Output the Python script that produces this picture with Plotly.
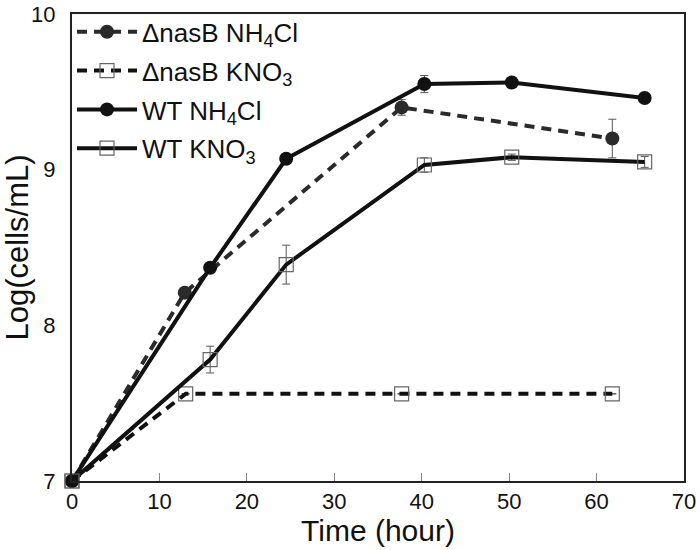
import plotly.graph_objects as go

# ---- data ----
t_wt_nh4 = [0, 15.8, 24.5, 40.3, 50.3, 65.5]
wt_nh4 = [7.0, 8.37, 9.07, 9.55, 9.56, 9.46]
wt_nh4_err = [0, 0, 0, 0.055, 0, 0]

t_wt_kno3 = [0, 15.8, 24.5, 40.3, 50.3, 65.5]
wt_kno3 = [7.0, 7.78, 8.39, 9.03, 9.08, 9.05]
wt_kno3_err = [0, 0.086, 0.125, 0.046, 0.02, 0.035]

t_nas_nh4 = [0, 12.9, 37.7, 61.8]
nas_nh4 = [7.0, 8.21, 9.40, 9.20]
nas_nh4_err = [0, 0, 0.05, 0.124]

t_nas_kno3 = [0, 13.0, 37.7, 61.8]
nas_kno3 = [7.0, 7.56, 7.56, 7.56]
nas_kno3_err = [0, 0, 0, 0]

x_ticks = [0, 10, 20, 30, 40, 50, 60, 70]
y_ticks = [7, 8, 9, 10]

FONT = "Arial, 'Liberation Sans', sans-serif"

def err(arr):
    return dict(type="data", array=arr, visible=True, color="#555", thickness=1, width=4)

fig = go.Figure()

fig.add_trace(go.Scatter(
    x=t_nas_nh4, y=nas_nh4, name="ΔnasB NH<sub>4</sub>Cl", mode="lines+markers",
    legendgroup="a",
    line=dict(color="#2a2a2a", width=4, dash="10px,7px"),
    marker=dict(symbol="circle", size=14, color="#2a2a2a"),
    error_y=err(nas_nh4_err), cliponaxis=False))

fig.add_trace(go.Scatter(
    x=t_nas_kno3, y=nas_kno3, name="ΔnasB KNO<sub>3</sub>", mode="lines+markers",
    legendgroup="b",
    line=dict(color="#111", width=4, dash="10px,7px"),
    marker=dict(symbol="square-open", size=14, color="#666", line=dict(width=1.2, color="#666")),
    error_y=err(nas_kno3_err), cliponaxis=False))

fig.add_trace(go.Scatter(
    x=t_wt_nh4, y=wt_nh4, name="WT NH<sub>4</sub>Cl", mode="lines+markers",
    legendgroup="c",
    line=dict(color="#111", width=4),
    marker=dict(symbol="circle", size=14, color="#111"),
    error_y=err(wt_nh4_err), cliponaxis=False))

fig.add_trace(go.Scatter(
    x=t_wt_kno3, y=wt_kno3, name="WT KNO<sub>3</sub>", mode="lines+markers",
    legendgroup="d",
    line=dict(color="#111", width=4),
    marker=dict(symbol="square-open", size=14, color="#666", line=dict(width=1.2, color="#666")),
    error_y=err(wt_kno3_err), cliponaxis=False))

fig.update_layout(
    width=700, height=550,
    margin=dict(l=72, r=16, t=14, b=69, autoexpand=False),
    paper_bgcolor="white", plot_bgcolor="white",
    font=dict(family=FONT, color="#111", size=22),
    showlegend=True,
    legend=dict(x=0.0, y=1.012, xanchor="left", yanchor="top",
                bgcolor="rgba(0,0,0,0)", font=dict(size=26, family=FONT),
                itemwidth=60, tracegroupgap=2),
    xaxis=dict(range=[0, 70], tickvals=x_ticks, ticks="inside", ticklen=8,
               tickcolor="#888", tickwidth=1, showgrid=False, zeroline=False,
               showline=True, linecolor="#222", linewidth=2, mirror=True,
               tickfont=dict(size=22), automargin=False,
               title=dict(text="Time (hour)", font=dict(size=30), standoff=6)),
    yaxis=dict(range=[7, 10], tickvals=y_ticks, ticks="", showgrid=False, zeroline=False,
               showline=True, linecolor="#222", linewidth=2, mirror=True,
               tickfont=dict(size=22), ticklabelstandoff=10, automargin=False,
               title=dict(text="Log(cells/mL)", font=dict(size=31), standoff=8)),
)

fig.write_html("out.html",
               config={"displayModeBar": False},
               post_script="document.body.style.margin='0';document.body.style.padding='0';")
